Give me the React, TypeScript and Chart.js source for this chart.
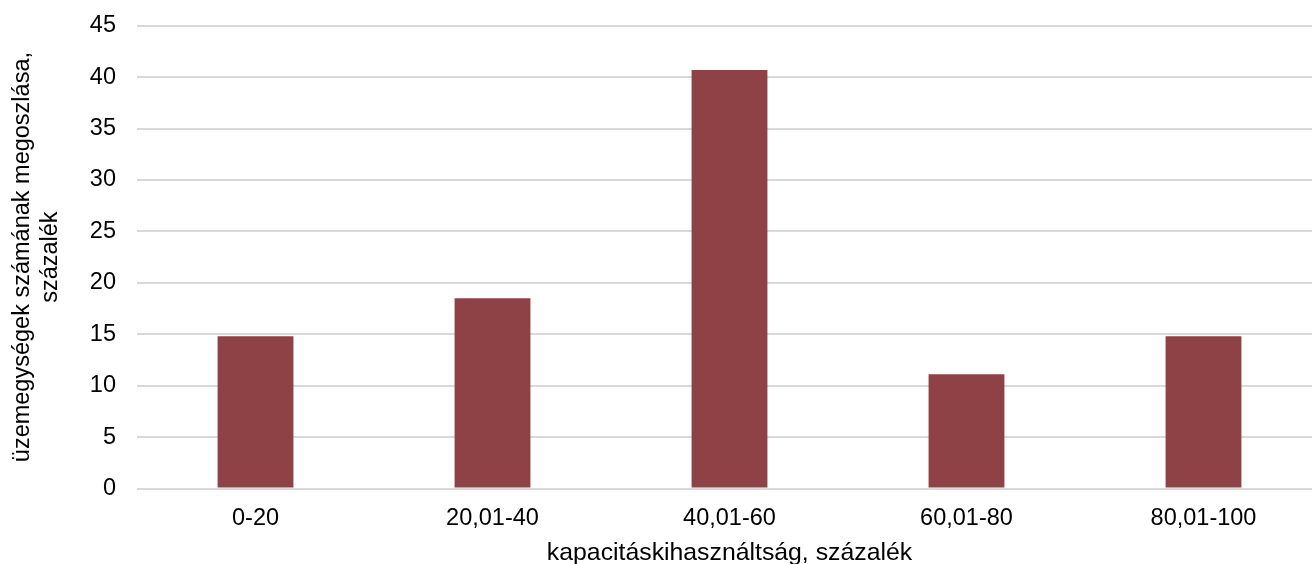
import React, { useEffect, useRef } from "react";
import { Chart, registerables } from "chart.js";

Chart.register(...registerables);

const categories = ["0-20", "20,01-40", "40,01-60", "60,01-80", "80,01-100"];
const values = [14.8, 18.5, 40.7, 11.1, 14.8];
const yTickMin = 0;
const yTickMax = 45;
const yTickStep = 5;
const xTitle = "kapacitáskihasználtság, százalék";
const yTitle = ["üzemegységek számának megoszlása,", "százalék"];

const FONT = "'Liberation Sans', Arial, sans-serif";

export default function App() {
  const ref = useRef<HTMLCanvasElement | null>(null);
  useEffect(() => {
    if (!ref.current) return;
    const chart = new Chart(ref.current, {
      type: "bar",
      data: {
        labels: categories,
        datasets: [
          {
            data: values,
            backgroundColor: "#8E4245",
            borderWidth: 0,
            barPercentage: 0.32,
            categoryPercentage: 1,
          },
        ],
      },
      options: {
        animation: false,
        responsive: true,
        maintainAspectRatio: false,
        layout: { padding: { top: 23, left: 0, right: 0, bottom: 0 } },
        plugins: { legend: { display: false }, tooltip: { enabled: false } },
        scales: {
          x: {
            grid: { display: false, drawTicks: false },
            border: { display: false },
            ticks: {
              color: "#000",
              padding: 16,
              font: { family: FONT, size: 23.5 },
              maxRotation: 0,
            },
            title: {
              display: true,
              text: xTitle,
              color: "#000",
              font: { family: FONT, size: 24.8 },
              padding: { top: 0, bottom: -4 },
            },
            afterFit: (scale: any) => {
              scale.height = 75.5;
            },
          },
          y: {
            min: yTickMin,
            max: yTickMax,
            grid: { color: "#D9D9D9", lineWidth: 2, drawTicks: false },
            border: { display: false },
            ticks: {
              stepSize: yTickStep,
              color: "#000",
              padding: 21,
              font: { family: FONT, size: 23.5, lineHeight: 0.4 },
            },
            title: {
              display: true,
              text: yTitle,
              color: "#000",
              font: { family: FONT, size: 23.5, lineHeight: 1.2 },
              padding: { top: 8, bottom: 0 },
            },
            afterFit: (scale: any) => {
              scale.width = 137;
            },
          },
        },
      },
    });
    return () => chart.destroy();
  }, []);
  return (
    <div
      style={{
        position: "absolute",
        left: 0,
        top: 0,
        width: 1312,
        height: 564,
        overflow: "hidden",
        background: "#fff",
      }}
    >
      <div style={{ position: "relative", width: 1322, height: 564 }}>
        <canvas ref={ref} />
      </div>
    </div>
  );
}
